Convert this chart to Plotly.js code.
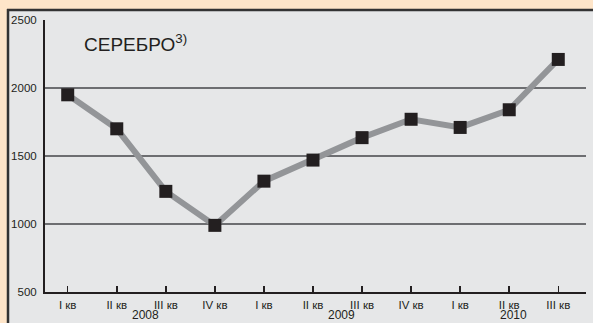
<!DOCTYPE html>
<html>
<head>
<meta charset="utf-8">
<script src="https://cdn.plot.ly/plotly-3.0.1.min.js"></script>
<style>
html,body{margin:0;padding:0;background:#e6e7e8;overflow:hidden;}
#chart{width:593px;height:323px;}
</style>
</head>
<body>
<div id="chart"></div>
<script>
// Data
var quarters = ['I кв','II кв','III кв','IV кв','I кв','II кв','III кв','IV кв','I кв','II кв','III кв'];
var silver = [1950, 1700, 1240, 990, 1315, 1470, 1635, 1770, 1710, 1840, 2210];
var years = ['2008', '2009', '2010'];
var yearQuarterCounts = [4, 4, 3];
var yTicks = [500, 1000, 1500, 2000, 2500];
var titleText = 'СЕРЕБРО';
var titleNote = '3)';

var xIdx = quarters.map(function(_, i){ return i; });

// year label positions: centre of each year's quarter group
var yearPos = [];
var start = 0;
for (var k = 0; k < years.length; k++) {
  yearPos.push(start + (yearQuarterCounts[k] - 1) / 2);
  start += yearQuarterCounts[k];
}

var W = 593, H = 323;
var m = {l: 45, r: 7, t: 20, b: 31};
var pw = W - m.l - m.r, ph = H - m.t - m.b;
function px2x(p){ return (p - m.l) / pw; }
function py2y(p){ return (H - m.b - p) / ph; }

var font = '"Liberation Sans Narrow", "Arial Narrow", "Liberation Sans", Arial, sans-serif';
var peach = '#fee5c9';

var trace = {
  x: xIdx,
  y: silver,
  type: 'scatter',
  mode: 'lines+markers',
  line: {color: '#939598', width: 6},
  marker: {symbol: 'square', size: 13, color: '#231f20', line: {width: 0}},
  hoverinfo: 'skip'
};

var annotations = years.map(function(yr, i){
  return {
    x: yearPos[i], xref: 'x', y: py2y(323), yref: 'paper',
    yanchor: 'bottom', xanchor: 'center', xshift: 4,
    borderpad: 0,
    text: yr, showarrow: false,
    font: {family: font, size: 12, color: '#231f20'}
  };
});
annotations.push({
  x: px2x(82), xref: 'paper', y: py2y(43), yref: 'paper',
  xanchor: 'left', yanchor: 'middle',
  text: titleText + '<sup>' + titleNote + '</sup>',
  showarrow: false,
  font: {family: '"Liberation Sans", Arial, sans-serif', size: 19, color: '#231f20'}
});

var layout = {
  width: W, height: H,
  margin: m,
  paper_bgcolor: '#e6e7e8',
  plot_bgcolor: '#e6e7e8',
  showlegend: false,
  xaxis: {
    range: [-0.463, 10.565],
    tickvals: xIdx,
    ticktext: quarters,
    ticks: 'inside', ticklen: 6, tickwidth: 1.5, tickcolor: '#231f20',
    showgrid: false, zeroline: false,
    showline: true, linecolor: '#231f20', linewidth: 2,
    tickfont: {family: font, size: 11.5, color: '#231f20'},
    ticklabelstandoff: 1,
    fixedrange: true
  },
  yaxis: {
    range: [500, 2500],
    tickvals: yTicks,
    ticks: '',
    showgrid: true, gridcolor: '#6d6e71', gridwidth: 1.5,
    zeroline: false,
    showline: true, linecolor: '#231f20', linewidth: 2,
    tickfont: {family: font, size: 11.5, color: '#231f20'},
    ticklabelstandoff: 4,
    fixedrange: true
  },
  shapes: [
    {type: 'rect', xref: 'paper', yref: 'paper', layer: 'below',
     x0: px2x(0), x1: px2x(8), y0: py2y(323), y1: py2y(0),
     fillcolor: peach, line: {width: 0}},
    {type: 'rect', xref: 'paper', yref: 'paper', layer: 'below',
     x0: px2x(0), x1: px2x(593), y0: py2y(10), y1: py2y(0),
     fillcolor: peach, line: {width: 0}},
    {type: 'line', xref: 'paper', yref: 'paper', layer: 'above',
     x0: px2x(7), x1: px2x(593), y0: py2y(10), y1: py2y(10),
     line: {color: '#333333', width: 2.5}},
    {type: 'line', xref: 'paper', yref: 'paper', layer: 'above',
     x0: px2x(8), x1: px2x(8), y0: py2y(9), y1: py2y(323),
     line: {color: '#333333', width: 2.5}}
  ],
  annotations: annotations
};

Plotly.newPlot('chart', [trace], layout, {displayModeBar: false, staticPlot: true});
</script>
</body>
</html>
